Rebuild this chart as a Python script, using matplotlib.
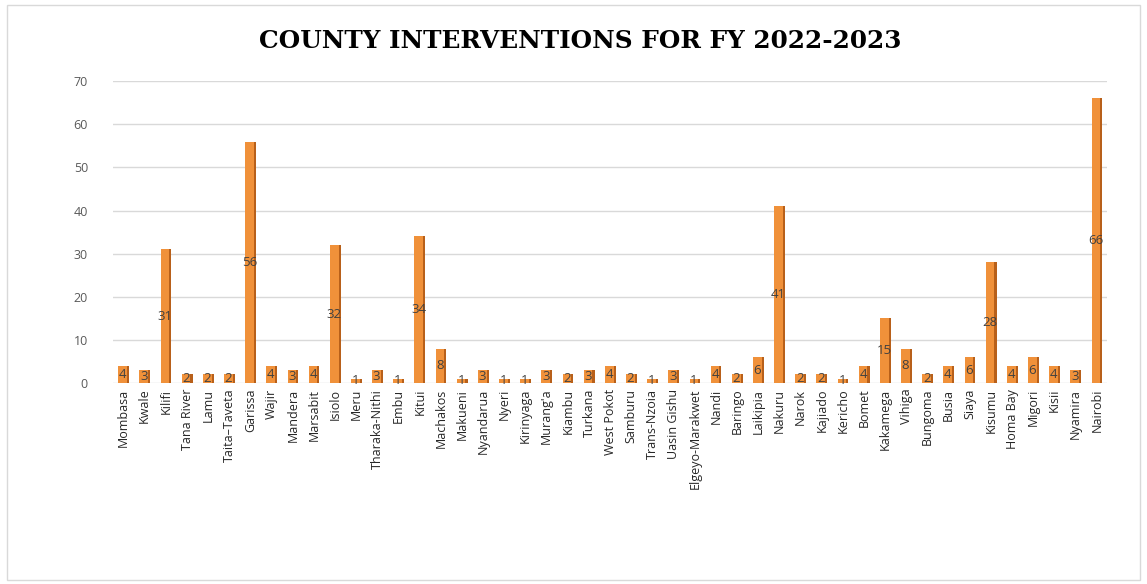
import matplotlib.pyplot as plt
import numpy as np

counties = ["Mombasa", "Kwale", "Kilifi", "Tana River", "Lamu", "Taita\u2013Taveta", "Garissa",
            "Wajir", "Mandera", "Marsabit", "Isiolo", "Meru", "Tharaka-Nithi", "Embu", "Kitui",
            "Machakos", "Makueni", "Nyandarua", "Nyeri", "Kirinyaga", "Murang'a", "Kiambu",
            "Turkana", "West Pokot", "Samburu", "Trans-Nzoia", "Uasin Gishu", "Elgeyo-Marakwet",
            "Nandi", "Baringo", "Laikipia", "Nakuru", "Narok", "Kajiado", "Kericho", "Bomet",
            "Kakamega", "Vihiga", "Bungoma", "Busia", "Siaya", "Kisumu", "Homa Bay", "Migori",
            "Kisii", "Nyamira", "Nairobi"]
interventions = [4, 3, 31, 2, 2, 2, 56, 4, 3, 4, 32, 1, 3, 1, 34, 8, 1, 3, 1, 1, 3, 2, 3, 4, 2,
                 1, 3, 1, 4, 2, 6, 41, 2, 2, 1, 4, 15, 8, 2, 4, 6, 28, 4, 6, 4, 3, 66]
yticks = [0, 10, 20, 30, 40, 50, 60, 70]

plt.rcParams['font.family'] = ['Open Sans', 'DejaVu Sans']

fig = plt.figure(figsize=(11.47, 5.84), dpi=100)
ax = fig.add_axes([0.0985, 0.344, 0.867, 0.517])

x = np.arange(len(counties))
front = "#F0913A"
side = "#B8601A"
ax.bar(x - 0.04, interventions, width=0.42, color=front, zorder=3)
ax.bar(x + 0.21, interventions, width=0.1, color=side, zorder=3)

for xi, v in zip(x, interventions):
    ax.text(xi - 0.04, v / 2, str(v), ha="center", va="center", fontsize=9.5,
            color="#404040", zorder=4)

ax.set_xlim(-0.5, len(counties) - 0.5)
ax.set_ylim(0, 70)
ax.set_yticks(yticks)
ax.set_xticks(x)
ax.set_xticklabels(counties, rotation=90, fontsize=9, color="#262626")
ax.tick_params(axis="y", labelsize=9, labelcolor="#595959", length=0, pad=18)
ax.tick_params(axis="x", length=0, pad=4)
ax.grid(axis="y", color="#D9D9D9", linewidth=1, zorder=0)
for s in ax.spines.values():
    s.set_visible(False)

fig.text(0.506, 0.93, "COUNTY INTERVENTIONS FOR FY 2022-2023", ha="center", va="center",
         fontsize=17.8, fontweight="bold", family="DejaVu Serif", color="#000000")

border = plt.Rectangle((0.006, 0.007), 0.988, 0.985, transform=fig.transFigure,
                       fill=False, edgecolor="#D9D9D9", linewidth=1)
fig.patches.append(border)

fig.savefig("out.png", dpi=100, facecolor="white")
